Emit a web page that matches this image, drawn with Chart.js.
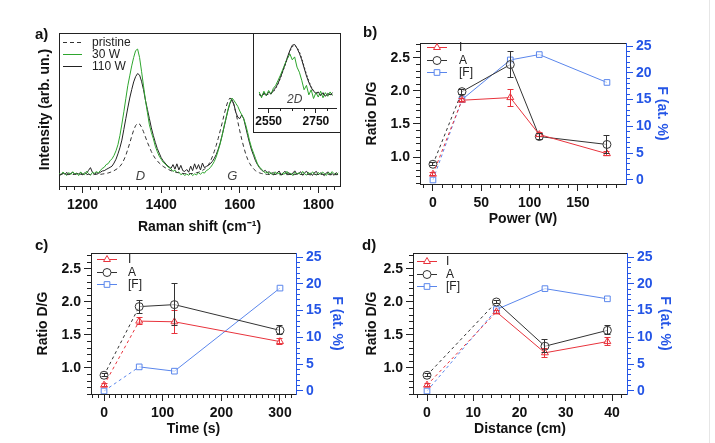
<!DOCTYPE html>
<html>
<head>
<meta charset="utf-8">
<script src="https://cdn.jsdelivr.net/npm/chart.js@4.4.1/dist/chart.umd.min.js"></script>
<style>
  body { margin: 0; background: #fff; }
  #page { position: relative; width: 715px; height: 443px; overflow: hidden; font-family: 'Liberation Sans', Arial, sans-serif; }
  canvas { position: absolute; }
  .tag { position: absolute; font-weight: bold; font-size: 15px; color: #111; line-height: 16px; }
  #edge { position: absolute; left: 709px; top: 0; width: 1px; height: 443px; background: #e6e6e6; }
</style>
</head>
<body>
<div id="page">
  <canvas id="chartA" width="360" height="220" style="left:0;top:20px"></canvas>
  <canvas id="chartInset" width="88" height="100" style="left:253px;top:33px"></canvas>
  <canvas id="chartB" width="330" height="210" style="left:360px;top:20px"></canvas>
  <canvas id="chartC" width="360" height="210" style="left:0;top:230px"></canvas>
  <canvas id="chartD" width="330" height="210" style="left:360px;top:230px"></canvas>
  <div class="tag" style="left:35px;top:26px">a)</div>
  <div class="tag" style="left:363px;top:24px">b)</div>
  <div class="tag" style="left:35px;top:237px">c)</div>
  <div class="tag" style="left:362px;top:237px">d)</div>
  <div id="edge"></div>
</div>
<script>
// a) Raman spectra (intensity in arbitrary units, read off the picture)
const ramanShift = [
  1140,1145,1150,1155,1160,1165,1170,1175,1180,1185,
  1190,1195,1200,1205,1210,1215,1220,1225,1230,1235,
  1240,1245,1250,1255,1260,1265,1270,1275,1280,1285,
  1290,1295,1300,1305,1310,1315,1320,1325,1330,1335,
  1340,1345,1350,1355,1360,1365,1370,1375,1380,1385,
  1390,1395,1400,1405,1410,1415,1420,1425,1430,1435,
  1440,1445,1450,1455,1460,1465,1470,1475,1480,1485,
  1490,1495,1500,1505,1510,1515,1520,1525,1530,1535,
  1540,1545,1550,1555,1560,1565,1570,1575,1580,1585,
  1590,1595,1600,1605,1610,1615,1620,1625,1630,1635,
  1640,1645,1650,1655,1660,1665,1670,1675,1680,1685,
  1690,1695,1700,1705,1710,1715,1720,1725,1730,1735,
  1740,1745,1750,1755,1760,1765,1770,1775,1780,1785,
  1790,1795,1800,1805,1810,1815,1820,1825,1830,1835,
  1840,1845,1850
];
const pristine = [
  7.8, 7.6, 7.9, 7.5, 7.7, 7.6, 7.8, 7.5, 7.6, 7.7,
  7.4, 7.6, 7.5, 7.7, 7.4, 7.6, 7.5, 7.3, 7.5, 7.6,
  7.4, 7.6, 7.8, 8.0, 8.2, 8.5, 8.9, 9.4, 10.0, 10.8,
  11.6, 12.8, 14.5, 17.0, 20.0, 24.0, 28.0, 32.5, 36.5, 39.5,
  41.0, 40.5, 38.5, 35.5, 32.0, 28.5, 25.5, 22.5, 20.0, 18.0,
  16.5, 15.0, 13.8, 12.8, 12.0, 11.2, 10.6, 10.0, 9.6, 9.2,
  8.9, 8.6, 8.4, 8.2, 8.1, 8.0, 8.0, 8.1, 8.2, 8.4,
  8.7, 9.0, 9.5, 10.2, 11.0, 12.2, 13.8, 16.0, 19.0, 22.5,
  26.5, 31.0, 36.0, 41.0, 46.5, 51.5, 55.5, 57.5, 56.5, 53.0,
  48.0, 42.0, 36.0, 30.5, 25.5, 21.0, 17.5, 14.8, 12.8, 11.2,
  10.0, 9.2, 8.6, 8.2, 7.9, 7.7, 7.6, 7.5, 7.7, 7.4,
  7.6, 7.5, 7.3, 7.6, 7.5, 7.7, 7.4, 7.5, 7.6, 7.3,
  7.5, 7.7, 7.4, 7.6, 7.5, 7.4, 7.6, 7.5, 7.3, 7.6,
  7.5, 7.7, 7.4, 7.5, 7.6, 7.4, 7.5, 7.6, 7.3, 7.5,
  7.6, 7.4, 7.5
];
const w30 = [
  8.5, 7.2, 9.1, 8.0, 6.9, 8.8, 7.5, 9.3, 7.8, 8.4,
  6.8, 9.0, 8.1, 7.4, 9.6, 8.2, 7.0, 8.9, 8.3, 9.4,
  8.6, 10.0, 11.5, 12.2, 14.0, 14.6, 16.5, 17.8, 20.0, 23.0,
  27.0, 33.0, 40.5, 48.5, 57.0, 65.5, 72.0, 78.5, 84.0, 88.5,
  89.5, 84.0, 75.0, 65.5, 56.0, 48.0, 40.0, 35.0, 31.0, 26.0,
  22.5, 19.5, 17.5, 15.5, 14.5, 13.0, 12.0, 11.2, 9.5, 10.4,
  8.6, 9.2, 7.4, 8.1, 6.9, 7.8, 7.0, 8.3, 6.8, 7.9,
  7.2, 8.8, 7.6, 9.0, 8.4, 10.1, 10.8, 12.0, 13.8, 16.0,
  19.0, 23.0, 27.5, 33.0, 39.0, 44.5, 50.0, 54.5, 57.5, 56.0,
  54.0, 52.0, 49.0, 46.5, 44.0, 40.0, 35.0, 29.5, 25.0, 21.5,
  18.0, 14.5, 12.5, 11.0, 9.8, 8.4, 9.2, 7.6, 8.8, 7.1,
  9.3, 7.9, 8.5, 6.9, 8.7, 7.8, 9.6, 7.3, 8.4, 6.8,
  9.0, 7.7, 8.6, 7.2, 9.5, 8.0, 7.1, 8.9, 7.5, 9.2,
  8.1, 7.0, 8.8, 7.6, 9.1, 8.3, 6.9, 8.7, 7.8, 9.4,
  8.0, 7.3, 8.6
];
const w110 = [
  8.0, 7.1, 8.6, 7.7, 8.9, 7.4, 8.2, 9.0, 7.6, 8.3,
  7.9, 8.8, 7.3, 8.5, 8.1, 10.2, 12.0, 9.0, 7.8, 8.6,
  8.2, 8.9, 9.8, 10.0, 10.8, 11.5, 12.2, 13.0, 15.0, 17.5,
  21.0, 25.0, 30.0, 37.0, 44.0, 51.0, 57.5, 63.0, 68.0, 71.5,
  73.5, 72.5, 68.5, 63.0, 56.0, 50.0, 44.0, 38.0, 33.0, 28.5,
  24.5, 21.5, 18.5, 16.5, 15.0, 13.5, 12.5, 11.5, 14.0, 11.0,
  14.5, 10.5, 13.5, 10.0, 9.5, 10.8, 9.0, 13.0, 10.0, 14.5,
  11.0, 14.0, 10.5, 15.0, 12.0, 12.8, 13.5, 14.5, 16.0, 18.0,
  20.5, 24.0, 28.0, 33.0, 38.5, 44.0, 49.5, 54.0, 56.5, 53.5,
  48.0, 45.0, 44.0, 46.5, 44.0, 38.5, 33.0, 28.0, 23.5, 20.0,
  16.5, 14.0, 12.0, 10.5, 9.5, 10.2, 8.6, 9.4, 7.8, 8.9,
  7.5, 8.6, 9.8, 7.4, 8.3, 9.7, 7.6, 8.8, 7.2, 8.5,
  9.9, 7.8, 8.2, 9.3, 7.0, 8.7, 9.6, 7.7, 8.4, 6.9,
  8.8, 9.5, 7.3, 8.6, 7.9, 6.8, 8.5, 9.2, 7.4, 8.1,
  7.0, 8.7, 7.9
];
const ramanTicks = [1200, 1400, 1600, 1800];

// inset: 2D band
const shift2D = [
  2510,2520,2530,2540,2550,2560,2570,2580,2590,2600,
  2610,2620,2630,2640,2650,2660,2670,2680,2690,2700,
  2710,2720,2730,2740,2750,2760,2770,2780,2790,2800,
  2810,2820
];
const pristine2D = [18,17,19,18,19,20,22,27,33,41, 50,59,69,78,84,86,83,77,68,57, 46,37,29,24,21,19,18,19,17,18, 18,19];
const w30_2D     = [22,14,23,17,24,19,27,31,38,45, 53,61,68,74,66,70,56,49,38,25, 31,18,25,13,21,15,23,14,21,16, 22,17];
const w110_2D    = [19,16,21,17,22,19,24,28,34,42, 51,60,70,79,86,87,82,75,66,55, 44,35,28,23,20,22,17,21,16,20, 18,21];
const ticks2D = [2550, 2750];

// b) power series
const powerW = [0, 30, 80, 110, 180];
const powerI = [0.74, 1.86, 1.90, 1.34, 1.05];
const powerIErr = [0.02, 0.02, 0.13, 0.03, 0.03];
const powerA = [0.89, 1.99, 2.40, 1.31, 1.19];
const powerAErr = [0.02, 0.04, 0.20, 0.05, 0.14];
const powerF = [0, 15.0, 22.4, 23.4, 18.2];
const powerTicks = [0, 50, 100, 150];

// c) time series
const timeS = [0, 60, 120, 300];
const timeI = [0.74, 1.71, 1.70, 1.40];
const timeIErr = [0.02, 0.05, 0.17, 0.05];
const timeA = [0.89, 1.93, 1.96, 1.57];
const timeAErr = [0.02, 0.10, 0.32, 0.07];
const timeF = [0, 4.5, 3.7, 19.2];
const timeTicks = [0, 100, 200, 300];

// d) distance series
const distanceCm = [0, 15, 25.5, 39];
const distI = [0.74, 1.85, 1.23, 1.40];
const distIErr = [0.02, 0.02, 0.07, 0.06];
const distA = [0.89, 2.00, 1.33, 1.57];
const distAErr = [0.02, 0.03, 0.10, 0.07];
const distF = [0, 15.2, 19.1, 17.2];
const distTicks = [0, 10, 20, 30, 40];

const ratioTicks = [1.0, 1.5, 2.0, 2.5];
const fTicks = [0, 5, 10, 15, 20, 25];

// styles
const FONT = "'Liberation Sans', Arial, sans-serif";
const tickFont = {family: FONT, size: 14, weight: 'bold'};
const titleFont = {family: FONT, size: 14, weight: 'bold'};
const INK = '#222';
const RED = '#e8333c';
const GREY = '#333';
const BLUE_LINE = '#5a86ec';
const BLUE_AXIS = '#2455e6';
const GREEN = '#2ea62e';

Chart.defaults.font.family = FONT;

function alignPx(p) { return Math.round(p - 0.5) + 0.5; }

function drawMarker(ctx, style, x, y, r) {
  ctx.beginPath();
  if (style === 'triangle') {
    ctx.moveTo(x, y - r);
    ctx.lineTo(x + r * 0.866, y + r * 0.5);
    ctx.lineTo(x - r * 0.866, y + r * 0.5);
    ctx.closePath();
  } else if (style === 'rect') {
    const h = r * Math.SQRT1_2;
    ctx.rect(x - h, y - h, 2 * h, 2 * h);
  } else {
    ctx.arc(x, y, r, 0, Math.PI * 2);
  }
  ctx.fill();
  ctx.stroke();
}

// box round the plot area (axes draw their own sides over it)
const framePlugin = {
  id: 'frame',
  beforeDraw(chart, args, o) {
    const {ctx, chartArea: a} = chart;
    ctx.save();
    if (o.whole) {
      ctx.fillStyle = '#fff';
      ctx.fillRect(0, 0, chart.width, chart.height);
      ctx.strokeStyle = INK;
      ctx.strokeRect(0.5, 0.5, chart.width - 1, chart.height - 1);
    } else {
      ctx.strokeStyle = INK;
      ctx.lineWidth = 1;
      const l = alignPx(a.left), r = alignPx(a.right), t = alignPx(a.top), b = alignPx(a.bottom);
      ctx.strokeRect(l, t, r - l, b - t);
    }
    ctx.restore();
  }
};

// short ticks between the labelled ones
const minorTickPlugin = {
  id: 'minorTicks',
  afterDraw(chart, args, o) {
    const {ctx, chartArea: a} = chart;
    (o.axes || []).forEach(m => {
      const s = chart.scales[m.id];
      ctx.save();
      ctx.strokeStyle = m.color;
      ctx.lineWidth = 1;
      ctx.beginPath();
      for (let k = 0; ; k++) {
        const v = m.from + k * m.step;
        if (v > m.to + 1e-9) break;
        const p = alignPx(s.getPixelForValue(v));
        if (s.position === 'bottom') { ctx.moveTo(p, a.bottom); ctx.lineTo(p, a.bottom + m.len); }
        else if (s.position === 'left') { ctx.moveTo(a.left - m.len, p); ctx.lineTo(a.left, p); }
        else { ctx.moveTo(a.right, p); ctx.lineTo(a.right + m.len, p); }
      }
      ctx.stroke();
      ctx.restore();
    });
  }
};

const errorBarPlugin = {
  id: 'errorBars',
  afterDatasetsDraw(chart) {
    const ctx = chart.ctx;
    chart.data.datasets.forEach((ds, i) => {
      if (!ds.errors) return;
      const meta = chart.getDatasetMeta(i);
      const ys = chart.scales[meta.yAxisID];
      ctx.save();
      ctx.strokeStyle = ds.borderColor;
      ctx.lineWidth = 1;
      meta.data.forEach((pt, j) => {
        const e = ds.errors[j];
        if (!e) return;
        const v = ds.data[j].y;
        const x = alignPx(pt.x);
        const yt = ys.getPixelForValue(v + e), yb = ys.getPixelForValue(v - e);
        ctx.beginPath();
        ctx.moveTo(x, yt); ctx.lineTo(x, yb);
        ctx.moveTo(x - 3, alignPx(yt)); ctx.lineTo(x + 3, alignPx(yt));
        ctx.moveTo(x - 3, alignPx(yb)); ctx.lineTo(x + 3, alignPx(yb));
        ctx.stroke();
      });
      ctx.restore();
    });
  }
};

// legend inside the plot: line sample with marker, then label
const legendPlugin = {
  id: 'boxLegend',
  afterDraw(chart, args, o) {
    if (!o.show) return;
    const {ctx, chartArea: a} = chart;
    ctx.save();
    ctx.font = o.fontSize + 'px ' + FONT;
    ctx.textBaseline = 'middle';
    chart.data.datasets.forEach((ds, i) => {
      const y = Math.round(a.top + o.dy + i * o.rowH) + 0.5;
      const x0 = a.left + o.dx;
      ctx.strokeStyle = ds.borderColor;
      ctx.lineWidth = 1;
      ctx.setLineDash(ds.borderDash || []);
      ctx.beginPath();
      ctx.moveTo(x0, y);
      ctx.lineTo(x0 + o.lineLen, y);
      ctx.stroke();
      ctx.setLineDash([]);
      if (ds.pointRadius > 0) {
        ctx.fillStyle = '#fff';
        drawMarker(ctx, ds.pointStyle, x0 + o.lineLen / 2, y, ds.pointRadius);
      }
      ctx.fillStyle = '#222';
      ctx.fillText(ds.label, x0 + o.textDx, y);
    });
    ctx.restore();
  }
};

// small italic peak names placed in data coordinates
const textPlugin = {
  id: 'textMarks',
  afterDraw(chart, args, o) {
    const ctx = chart.ctx;
    ctx.save();
    ctx.textAlign = 'center';
    ctx.textBaseline = 'middle';
    ctx.fillStyle = '#444';
    (o.items || []).forEach(t => {
      ctx.font = 'italic ' + t.size + 'px ' + FONT;
      ctx.fillText(t.text, chart.scales.x.getPixelForValue(t.x), chart.scales.y.getPixelForValue(t.y));
    });
    ctx.restore();
  }
};

function axis(o) {
  return {
    type: 'linear',
    position: o.pos,
    min: o.min,
    max: o.max,
    afterBuildTicks: s => { s.ticks = (o.ticks || []).map(v => ({value: v})); },
    afterFit: s => { if (o.pos === 'bottom') s.height = o.size; else s.width = o.size; },
    ticks: {
      display: o.ticks !== undefined,
      autoSkip: false, maxRotation: 0,
      color: o.labelColor || '#111',
      font: o.font || tickFont,
      padding: o.pad || 3,
      callback: o.fmt || (v => String(v))
    },
    grid: {display: o.tl > 0, drawOnChartArea: false, tickLength: o.tl || 0, color: o.color},
    border: {display: true, color: o.color, width: 1},
    title: o.title ? {display: true, text: o.title, color: o.labelColor || '#111', font: titleFont, padding: o.titlePad} : {display: false}
  };
}

function points(xs, ys) { return xs.map((x, k) => ({x: x, y: ys[k]})); }

function spectrum(label, xs, ys, color, dash) {
  return {label: label, data: points(xs, ys), borderColor: color, borderWidth: 1, borderDash: dash, pointRadius: 0, fill: false};
}

const baseOpts = {responsive: false, animation: false, events: []};

// ---- a) ----
new Chart(document.getElementById('chartA'), {
  type: 'line',
  data: {datasets: [
    spectrum('pristine', ramanShift, pristine, GREY, [4, 3]),
    spectrum('30 W', ramanShift, w30, GREEN, []),
    spectrum('110 W', ramanShift, w110, INK, [])
  ]},
  options: Object.assign({}, baseOpts, {
    layout: {padding: {top: 13, right: 20, left: 0, bottom: 0}},
    plugins: {
      legend: {display: false}, tooltip: {enabled: false},
      boxLegend: {show: true, dx: 4, dy: 9, rowH: 12, lineLen: 19, textDx: 29, fontSize: 12},
      minorTicks: {axes: [{id: 'x', from: 1140, to: 1840, step: 20, len: 4, color: INK}]},
      textMarks: {items: [{x: 1347, y: 6, text: 'D', size: 13}, {x: 1581, y: 6, text: 'G', size: 13}]}
    },
    scales: {
      x: axis({pos: 'bottom', min: 1140, max: 1855, ticks: ramanTicks, size: 54, tl: 7, color: INK, pad: 4,
               title: 'Raman shift (cm\u207B\u00B9)', titlePad: {top: 0, bottom: 4}}),
      y: axis({pos: 'left', min: 0, max: 100, size: 59, tl: 0, color: INK,
               title: 'Intensity (arb. un.)', titlePad: {top: 37, bottom: 0}})
    }
  }),
  plugins: [framePlugin, minorTickPlugin, legendPlugin, textPlugin]
});

// ---- inset 2D ----
new Chart(document.getElementById('chartInset'), {
  type: 'line',
  data: {datasets: [
    spectrum('pristine', shift2D, pristine2D, GREY, [2, 2]),
    spectrum('30 W', shift2D, w30_2D, GREEN, []),
    spectrum('110 W', shift2D, w110_2D, INK, [])
  ]},
  options: Object.assign({}, baseOpts, {
    layout: {padding: {top: 2, right: 5, left: 5, bottom: 0}},
    plugins: {
      legend: {display: false}, tooltip: {enabled: false},
      frame: {whole: true},
      minorTicks: {axes: [{id: 'x', from: 2550, to: 2800, step: 50, len: 3, color: INK}]},
      textMarks: {items: [{x: 2660, y: 12, text: '2D', size: 12}]}
    },
    scales: {
      x: axis({pos: 'bottom', min: 2505, max: 2835, ticks: ticks2D, size: 25, tl: 5, color: INK, pad: 1,
               font: {family: FONT, size: 12, weight: 'bold'}}),
      y: Object.assign(axis({pos: 'left', min: 0, max: 100, size: 0, tl: 0, color: INK}), {display: false})
    }
  }),
  plugins: [framePlugin, minorTickPlugin, textPlugin]
});

// ---- b), c), d) ----
function ratioChart(id, c) {
  const dashFirst = {borderDash: s => s.p0DataIndex === 0 ? [3, 3] : undefined};
  const set = (label, ys, errs, color, style, yAxis) => ({
    label: label, data: points(c.x, ys), errors: errs, yAxisID: yAxis,
    borderColor: color, borderWidth: 1, backgroundColor: 'rgba(255,255,255,0.6)',
    pointStyle: style, pointRadius: 4, pointBorderColor: color, pointBorderWidth: 1,
    segment: dashFirst, fill: false
  });
  new Chart(document.getElementById(id), {
    type: 'line',
    data: {datasets: [
      set('I', c.I, c.Ierr, RED, 'triangle', 'y'),
      set('A', c.A, c.Aerr, GREY, 'circle', 'y'),
      set('[F]', c.F, null, BLUE_LINE, 'rect', 'y1')
    ]},
    options: Object.assign({}, baseOpts, {
      layout: {padding: {top: 23, right: 0, left: 0, bottom: 0}},
      plugins: {
        legend: {display: false}, tooltip: {enabled: false},
        boxLegend: {show: true, dx: c.lg[0], dy: c.lg[1], rowH: 12.5, lineLen: 20, textDx: c.lg[2], fontSize: 12},
        minorTicks: {axes: [
          {id: 'x', from: c.minor[0], to: c.minor[1], step: c.minor[2], len: 4, color: INK},
          {id: 'y', from: 0.6, to: 2.7, step: 0.1, len: 4, color: INK},
          {id: 'y1', from: 0, to: 25, step: 1, len: 4, color: BLUE_AXIS}
        ]}
      },
      scales: {
        x: axis({pos: 'bottom', min: c.xMin, max: c.xMax, ticks: c.ticks, size: 46, tl: 7, color: INK, pad: 4,
                 title: c.title, titlePad: {top: 0, bottom: 2}}),
        y: axis({pos: 'left', min: c.yMin, max: c.yMax, ticks: ratioTicks, size: c.leftW, tl: 7, color: INK, pad: 3,
                 fmt: v => v.toFixed(1), title: 'Ratio D/G', titlePad: {top: c.leftPad, bottom: 0}}),
        y1: axis({pos: 'right', min: c.fMin, max: c.fMax, ticks: fTicks, size: c.rightW, tl: 7, color: BLUE_AXIS,
                  labelColor: BLUE_AXIS, pad: 3, title: 'F (at. %)', titlePad: {top: c.rightPad, bottom: 0}})
      }
    }),
    plugins: [framePlugin, minorTickPlugin, errorBarPlugin, legendPlugin]
  });
}

ratioChart('chartB', {
  x: powerW, I: powerI, Ierr: powerIErr, A: powerA, Aerr: powerAErr, F: powerF,
  xMin: -13.4, xMax: 199.7, ticks: powerTicks, minor: [-10, 190, 10], title: 'Power (W)',
  yMin: 0.591, yMax: 2.727, fMin: -0.75, fMax: 25.56,
  leftW: 60, rightW: 64, leftPad: 4, rightPad: 20, lg: [7, 4, 32]
});
ratioChart('chartC', {
  x: timeS, I: timeI, Ierr: timeIErr, A: timeA, Aerr: timeAErr, F: timeF,
  xMin: -22.2, xMax: 327.3, ticks: timeTicks, minor: [-20, 320, 10], title: 'Time (s)',
  yMin: 0.606, yMax: 2.742, fMin: -0.56, fMax: 25.75,
  leftW: 91, rightW: 64, leftPad: 35, rightPad: 15, lg: [6, 6, 31]
});
ratioChart('chartD', {
  x: distanceCm, I: distI, Ierr: distIErr, A: distA, Aerr: distAErr, F: distF,
  xMin: -3.03, xMax: 43.24, ticks: distTicks, minor: [-2, 42, 2], title: 'Distance (cm)',
  yMin: 0.606, yMax: 2.742, fMin: -0.56, fMax: 25.75,
  leftW: 53, rightW: 63, leftPad: 4, rightPad: 17, lg: [4, 8, 29]
});
</script>
</body>
</html>
